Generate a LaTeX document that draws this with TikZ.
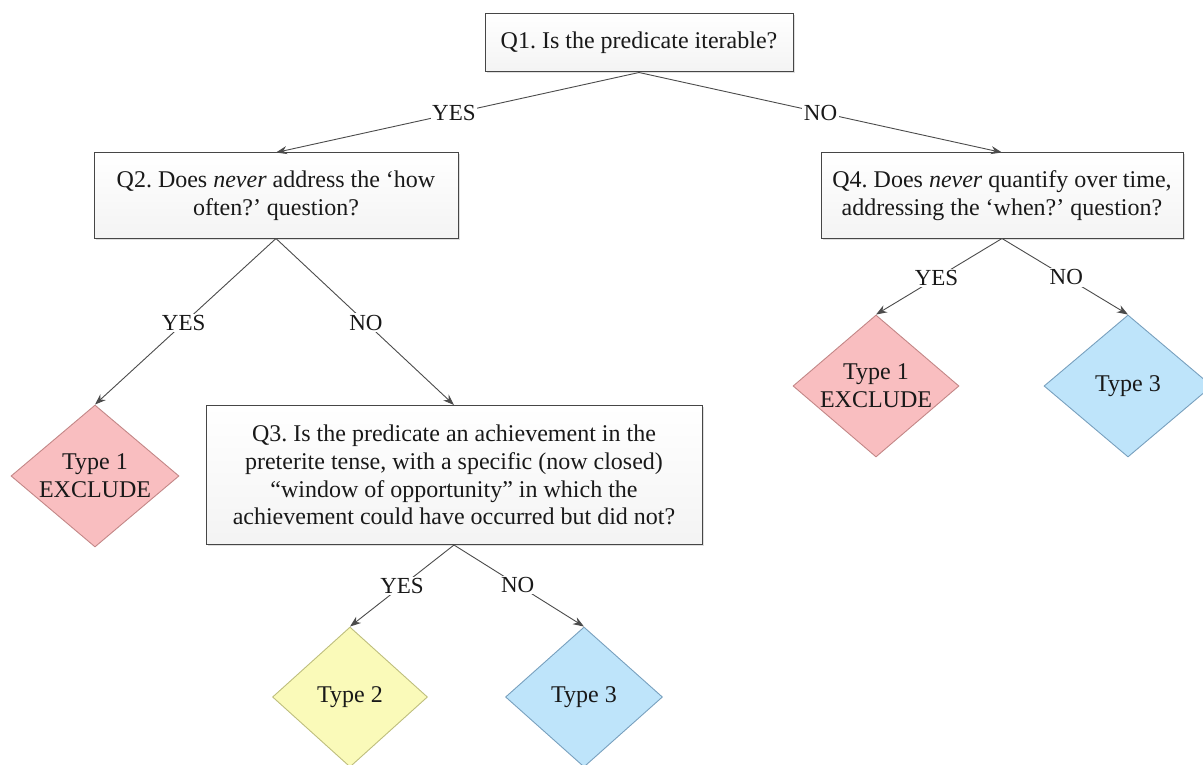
\documentclass[tikz,border=0pt]{standalone}
\usepackage{fontspec}
\setmainfont{Liberation Serif}
\usetikzlibrary{shapes.geometric,arrows.meta,shadows}
\definecolor{boxline}{RGB}{70,70,70}
\definecolor{arrowc}{RGB}{75,75,75}
\definecolor{txt}{RGB}{25,25,25}
\definecolor{pinkfill}{RGB}{249,190,192}
\definecolor{pinkline}{RGB}{195,135,135}
\definecolor{yelfill}{RGB}{250,250,185}
\definecolor{yelline}{RGB}{190,190,125}
\definecolor{bluefill}{RGB}{190,228,250}
\definecolor{blueline}{RGB}{120,160,190}
\tikzset{
  qbox/.style={draw=boxline, line width=1pt, top color=white, bottom color=gray!9,
    align=center, inner sep=0pt, text=txt,
    drop shadow={shadow xshift=1.5pt, shadow yshift=-1.5pt, opacity=0.25}},
  dia/.style={diamond, line width=0.9pt, inner sep=0pt, minimum width=166pt, minimum height=142pt},
  pinkd/.style={dia, draw=pinkline, fill=pinkfill},
  yeld/.style={dia, draw=yelline, fill=yelfill},
  blued/.style={dia, draw=blueline, fill=bluefill},
  dtext/.style={align=center, inner sep=0pt, text=txt},
  conn/.style={draw=arrowc, line width=0.9pt, -{Stealth[length=11pt,width=8pt]}},
  lbl/.style={fill=white, inner sep=1.5pt, text=txt, font=\fontsize{23}{26}\selectfont},
}
\begin{document}
\frenchspacing
\begin{tikzpicture}[x=1pt,y=-1pt, font=\fontsize{24}{27.8}\selectfont]
\useasboundingbox (0,0) rectangle (1203,765);
\node[qbox, minimum width=308pt, minimum height=58pt] (q1) at (639,43) {Q1. Is the predicate iterable?};
\node[qbox, minimum width=364pt, minimum height=85pt] (q2) at (276,195.5) {Q2. Does \textit{never} address the ‘how\\ often?’ question?};
\node[qbox, minimum width=362pt, minimum height=85pt] (q4) at (1002,195.5) {Q4. Does \textit{never} quantify over time,\\ addressing the ‘when?’ question?};
\node[qbox, minimum width=496pt, minimum height=139pt] (q3) at (454,475) {Q3. Is the predicate an achievement in the\\ preterite tense, with a specific (now closed)\\ “window of opportunity” in which the\\ achievement could have occurred but did not?};
\node[pinkd, minimum width=168pt] (t1a) at (95,476) {};
\node[dtext] (t1at) at (t1a.center) {Type 1\\ EXCLUDE};
\node[pinkd] (t1b) at (876,386) {};
\node[dtext] (t1bt) at (t1b.center) {Type 1\\ EXCLUDE};
\node[blued, minimum width=168pt] (t3a) at (1128,386) {};
\node[dtext] (t3at) at (t3a.center) {Type 3};
\node[yeld, minimum width=155pt, minimum height=140pt] (t2) at (350,697) {};
\node[dtext] (t2t) at (t2.center) {Type 2};
\node[blued, minimum width=157pt, minimum height=140pt] (t3b) at (584,697) {};
\node[dtext] (t3bt) at (t3b.center) {Type 3};

\draw[conn] (q1.south) -- node[lbl, pos=0.51] {YES} (q2.north);
\draw[conn] (q1.south) -- node[lbl, pos=0.5] {NO} (q4.north);
\draw[conn] (q2.south) -- node[lbl, pos=0.51] {YES} (t1a.north);
\draw[conn] (q2.south) -- node[lbl, pos=0.505] {NO} (q3.north);
\draw[conn] (q4.south) -- node[lbl, pos=0.52] {YES} (t1b.north);
\draw[conn] (q4.south) -- node[lbl, pos=0.51] {NO} (t3a.north);
\draw[conn] (q3.south) -- node[lbl, pos=0.5] {YES} (t2.north);
\draw[conn] (q3.south) -- node[lbl, pos=0.49] {NO} (t3b.north);
\end{tikzpicture}
\end{document}
